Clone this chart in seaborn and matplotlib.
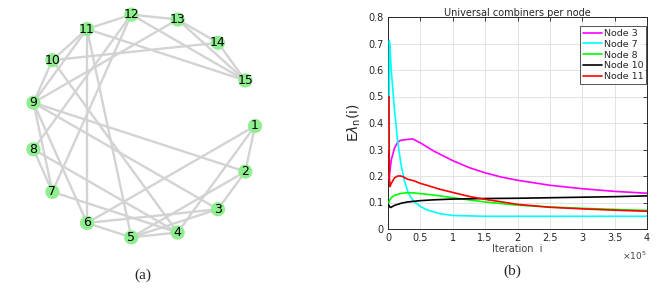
import numpy as np
import pandas as pd
import matplotlib
matplotlib.use("Agg")
import matplotlib.pyplot as plt
import seaborn as sns

# ---------------- data ----------------
node_ids = list(range(1, 16))
edges = [(1, 2), (1, 4), (1, 6), (2, 3), (2, 5), (2, 9), (3, 5), (3, 6), (3, 9),
         (4, 5), (4, 7), (4, 8), (4, 10), (5, 6), (5, 11), (6, 9), (6, 11),
         (7, 8), (7, 9), (7, 12), (8, 12), (9, 10), (9, 11), (9, 13), (10, 11),
         (10, 14), (11, 12), (11, 15), (12, 13), (12, 15), (13, 14), (13, 15), (14, 15)]

series_names = ["Node 3", "Node 7", "Node 8", "Node 10", "Node 11"]
series_colors = ["#ff00ff", "#00ffff", "#00ff00", "#000000", "#ff0000"]

x_node3 = [0.015, 0.03, 0.05, 0.1, 0.15, 0.2, 0.3, 0.38, 0.5, 0.7, 1.0, 1.25, 1.5, 1.75, 2.0, 2.5, 3.0, 3.5, 4.0]
y_node3 = [0.19, 0.22, 0.26, 0.305, 0.328, 0.335, 0.338, 0.34, 0.325, 0.295, 0.258, 0.232, 0.212, 0.196, 0.184, 0.165, 0.152, 0.142, 0.135]

x_node7 = [0.015, 0.022, 0.03, 0.05, 0.1, 0.15, 0.2, 0.25, 0.3, 0.35, 0.4, 0.5, 0.6, 0.8, 1.0, 1.5, 2.0, 3.0, 4.0]
y_node7 = [0.3, 0.71, 0.69, 0.6, 0.45, 0.33, 0.245, 0.185, 0.145, 0.12, 0.104, 0.085, 0.072, 0.058, 0.051, 0.048, 0.048, 0.048, 0.048]

x_node8 = [0.015, 0.025, 0.05, 0.1, 0.2, 0.3, 0.4, 0.6, 0.8, 1.0, 1.5, 2.0, 2.5, 3.0, 3.5, 4.0]
y_node8 = [0.1, 0.108, 0.118, 0.127, 0.134, 0.137, 0.136, 0.131, 0.125, 0.118, 0.102, 0.09, 0.083, 0.078, 0.074, 0.07]

x_node10 = [0.015, 0.025, 0.04, 0.07, 0.1, 0.2, 0.3, 0.5, 0.7, 1.0, 1.5, 2.0, 2.5, 3.0, 3.5, 4.0]
y_node10 = [0.09, 0.084, 0.081, 0.085, 0.089, 0.097, 0.102, 0.107, 0.11, 0.113, 0.115, 0.116, 0.118, 0.12, 0.122, 0.125]

x_node11 = [0.015, 0.02, 0.03, 0.05, 0.1, 0.15, 0.2, 0.25, 0.3, 0.4, 0.5, 0.6, 0.8, 1.0, 1.25, 1.5, 2.0, 2.5, 3.0, 3.5, 4.0]
y_node11 = [0.5, 0.2, 0.16, 0.172, 0.193, 0.2, 0.2, 0.195, 0.188, 0.182, 0.172, 0.165, 0.15, 0.138, 0.123, 0.112, 0.093, 0.082, 0.076, 0.071, 0.067]

x_ticks = [0, 0.5, 1, 1.5, 2, 2.5, 3, 3.5, 4]
x_ticklabels = ["0", "0.5", "1", "1.5", "2", "2.5", "3", "3.5", "4"]
y_ticks = [0, 0.1, 0.2, 0.3, 0.4, 0.5, 0.6, 0.7, 0.8]
y_ticklabels = ["0", "0.1", "0.2", "0.3", "0.4", "0.5", "0.6", "0.7", "0.8"]

# ---------------- figure ----------------
sns.set_theme(style="white")
plt.rcParams["font.family"] = ["DejaVu Sans"]
W, H = 657, 295
fig = plt.figure(figsize=(W / 100, H / 100), dpi=100)

# ---- (a) network ----
cx, cy, R = 143, 126, 112
half = 140
ax1 = fig.add_axes([(cx - half) / W, (H - cy - half) / H, 2 * half / W, 2 * half / H])
lim = half / R
ax1.set_xlim(-lim, lim)
ax1.set_ylim(-lim, lim)
ax1.set_aspect("equal")
ax1.axis("off")

ang = -np.deg2rad((np.array(node_ids) - 1) * 24.0)
pos = {n: (np.cos(a), np.sin(a)) for n, a in zip(node_ids, ang)}
for a, b in edges:
    ax1.plot([pos[a][0], pos[b][0]], [pos[a][1], pos[b][1]], color="#d3d3d3", lw=1.7,
             solid_capstyle="round", zorder=1)
nodes_df = pd.DataFrame({"x": [pos[n][0] for n in node_ids],
                         "y": [pos[n][1] for n in node_ids],
                         "id": node_ids})
sns.scatterplot(data=nodes_df, x="x", y="y", ax=ax1, s=105, color="#90ee90",
                edgecolor="none", zorder=2, legend=False)
for n in node_ids:
    ax1.text(pos[n][0], pos[n][1], str(n), ha="center", va="center", fontsize=9,
             color="black", zorder=3)
ax1.set_xlabel("")
ax1.set_ylabel("")

# ---- (b) line plot ----
xs = [x_node3, x_node7, x_node8, x_node10, x_node11]
ys = [y_node3, y_node7, y_node8, y_node10, y_node11]
rows = []
for name, xv, yv in zip(series_names, xs, ys):
    for a, b in zip(xv, yv):
        rows.append((name, a, b))
df = pd.DataFrame(rows, columns=["node", "iter", "val"])

L, Rr, B, T = 388, 647, 229, 17
ax2 = fig.add_axes([L / W, (H - B) / H, (Rr - L) / W, (B - T) / H])
sns.lineplot(data=df, x="iter", y="val", hue="node", hue_order=series_names,
             palette=dict(zip(series_names, series_colors)), estimator=None,
             sort=False, lw=1.2, ax=ax2, zorder=3)
ax2.set_xlim(0, 4)
ax2.set_ylim(0, 0.8)
ax2.set_xticks(x_ticks)
ax2.set_xticklabels(x_ticklabels)
ax2.set_yticks(y_ticks)
ax2.set_yticklabels(y_ticklabels)
axcol = "#262626"
ax2.grid(True, color="#dedede", lw=0.6)
ax2.set_axisbelow(True)
for s in ax2.spines.values():
    s.set_visible(True)
    s.set_color(axcol)
    s.set_linewidth(0.7)
ax2.tick_params(direction="in", length=3, width=0.6, colors=axcol, labelsize=7,
                top=True, right=True, pad=3)
ax2.set_title("Universal combiners per node", fontsize=7, color=axcol, pad=1)
ax2.set_xlabel("Iteration  i", fontsize=7, color="#404040", labelpad=0.5)
ax2.set_ylabel(r"E$\lambda_{\rm n}$(i)", fontsize=10, color=axcol, labelpad=4)
ax2.text(1.0, -0.095, r"$\times10^5$", transform=ax2.transAxes, ha="right",
         va="top", fontsize=6.5, color="#404040")
leg = ax2.legend(loc="upper right", bbox_to_anchor=(1.0 - 1.0 / (Rr - L), 1.0 - 9 / (B - T)),
                 fontsize=6.8, frameon=True, fancybox=False,
                 borderpad=0.3, labelspacing=0.2, handlelength=2.0,
                 handletextpad=0.2, borderaxespad=0.0)
leg.get_frame().set_edgecolor(axcol)
leg.get_frame().set_linewidth(0.7)
leg.set_title(None)

# captions
fig.text(143 / W, 1 - 275 / H, "(a)", ha="center", va="center", fontsize=11,
         family="Liberation Serif")
fig.text(512 / W, 1 - 271 / H, "(b)", ha="center", va="center", fontsize=11,
         family="Liberation Serif")

fig.savefig("out.png", dpi=100)
